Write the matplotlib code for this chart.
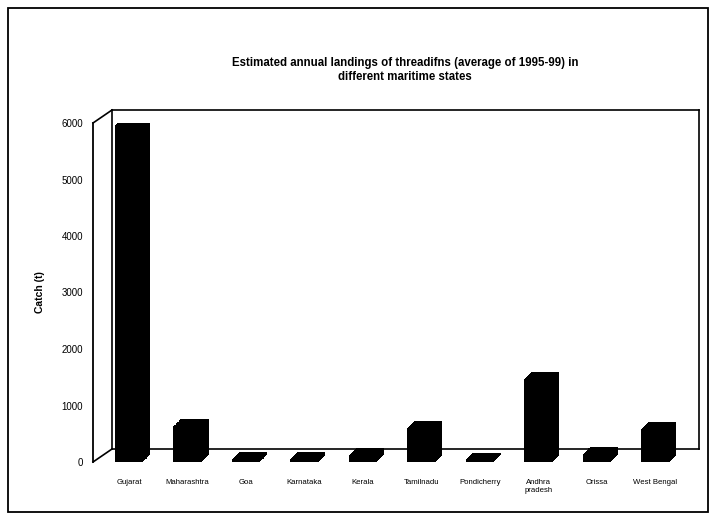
import matplotlib
matplotlib.use("Agg")
import matplotlib.pyplot as plt
from matplotlib.lines import Line2D
from matplotlib.patches import Rectangle
from matplotlib.transforms import ScaledTranslation

plt.rcParams['font.family'] = ['Liberation Sans', 'DejaVu Sans']

# data
states = ['Gujarat', 'Maharashtra', 'Goa', 'Karnataka', 'Kerala', 'Tamilnadu',
          'Pondicherry', 'Andhra\npradesh', 'Orissa', 'West Bengal']
catch = [5950, 630, 50, 50, 120, 600, 40, 1470, 140, 580]
yticks = [0, 1000, 2000, 3000, 4000, 5000, 6000]

W, H = 712, 525
fig = plt.figure(figsize=(W / 100, H / 100), dpi=100)


def px(x, y):
    # pixel position (from top-left) -> figure fraction
    return x / W, 1 - y / H


# front plane of the pseudo 3d box
x0, y0 = px(93, 462)
x1, y1 = px(680, 123)
ax = fig.add_axes([x0, y0, x1 - x0, y1 - y0])
ax.patch.set_visible(False)
ax.set_ylim(0, 6000)
ax.set_xlim(-0.615, 9.42)
for s in ['top', 'right', 'bottom']:
    ax.spines[s].set_visible(False)
ax.spines['left'].set_linewidth(1.3)
ax.set_yticks(yticks)
ax.set_yticklabels([str(v) for v in yticks], fontsize=7)
ax.tick_params(axis='y', length=0, pad=7)
ax.set_xticks(range(len(states)))
ax.set_xticklabels(states, fontsize=5.6)
ax.tick_params(axis='x', length=0, pad=12)
ax.set_ylabel('Catch (t)', fontsize=7.5, fontweight='bold', labelpad=12)

# extrude the bars backwards to fake the 3d columns
steps = 30
dx, dy = 0.07, 0.07  # inches
for k in range(steps + 1):
    off = ScaledTranslation(dx * k / steps, dy * k / steps, fig.dpi_scale_trans)
    ax.bar(range(len(states)), catch, width=0.48, color='black',
           transform=ax.transData + off, zorder=3)

# back wall, floor and side wall lines
lw = 1.2
frame = [
    [(93, 123), (112, 110)],
    [(112, 110), (699, 110)],
    [(699, 110), (699, 449)],
    [(112, 110), (112, 449)],
    [(112, 449), (699, 449)],
    [(93, 462), (112, 449)],
]
for a, b in frame:
    xa, ya = px(*a)
    xb, yb = px(*b)
    fig.add_artist(Line2D([xa, xb], [ya, yb], color='black', lw=lw, zorder=-1))

# outer border of the chart area
bx, by = px(8, 512)
bx2, by2 = px(708, 8)
fig.add_artist(Rectangle((bx, by), bx2 - bx, by2 - by, fill=False,
                         edgecolor='black', lw=1.3, zorder=-2))

tx, ty = px(405, 70)
fig.text(tx, ty, 'Estimated annual landings of threadifns (average of 1995-99) in\n'
         'different maritime states', ha='center', va='center',
         fontsize=8.3, fontweight='bold', linespacing=1.2)

fig.savefig('out.png', dpi=100)
